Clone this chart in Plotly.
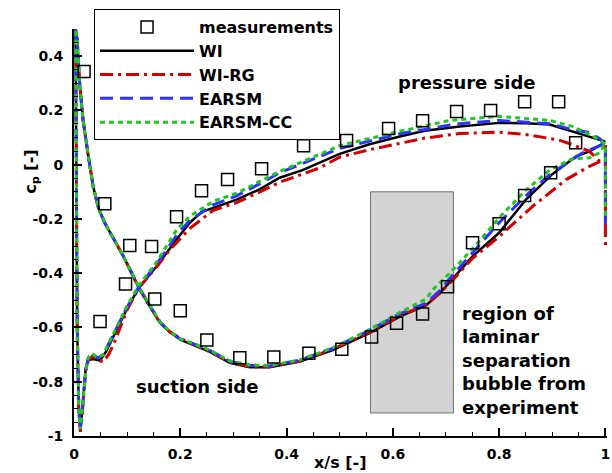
import plotly.graph_objects as go

# ---------------- data ----------------
# measurements
meas_x = [0.019, 0.058, 0.105, 0.146, 0.193, 0.24, 0.289, 0.353, 0.432, 0.513, 0.592, 0.656,
          0.72, 0.784, 0.848, 0.912, 0.944,
          0.049, 0.097, 0.152, 0.2, 0.25, 0.312, 0.376, 0.442, 0.504, 0.56, 0.607, 0.656,
          0.703, 0.75, 0.8, 0.848, 0.897]
meas_y = [0.343, -0.144, -0.298, -0.302, -0.192, -0.096, -0.055, -0.015, 0.07, 0.089, 0.133, 0.162,
          0.196, 0.2, 0.232, 0.232, 0.081,
          -0.578, -0.44, -0.495, -0.538, -0.646, -0.712, -0.709, -0.695, -0.68, -0.635, -0.584, -0.55,
          -0.45, -0.288, -0.218, -0.114, -0.03]

# WI : branch A (stagnation -> lower loop -> TE), branch B (stagnation -> LE dip -> upper loop -> TE)
wi_ax = [0.003, 0.006, 0.011, 0.017, 0.026, 0.036, 0.046, 0.058, 0.075, 0.093, 0.122, 0.143, 0.162,
         0.18, 0.2, 0.23, 0.256, 0.293, 0.331, 0.368, 0.425, 0.487, 0.556, 0.613, 0.663, 0.688,
         0.713, 0.75, 0.8, 0.85, 0.9, 0.945, 0.97, 0.998]
wi_ay = [0.5, 0.46, 0.29, 0.166, 0.044, -0.08, -0.16, -0.215, -0.275, -0.338, -0.454, -0.523, -0.583,
         -0.617, -0.645, -0.668, -0.69, -0.73, -0.747, -0.747, -0.726, -0.683, -0.621, -0.56, -0.518,
         -0.474, -0.418, -0.338, -0.251, -0.13, -0.035, 0.031, 0.049, 0.08]
wi_bx = [0.003, 0.004, 0.006, 0.009, 0.012, 0.015, 0.018, 0.022, 0.027, 0.036, 0.049, 0.06, 0.07,
         0.085, 0.1, 0.122, 0.155, 0.18, 0.195, 0.218, 0.24, 0.262, 0.306, 0.35, 0.387, 0.43, 0.5,
         0.556, 0.613, 0.66, 0.726, 0.8, 0.85, 0.895, 0.938, 0.97, 0.989, 1.0]
wi_by = [0.5, 0.0, -0.6, -0.9, -0.978, -0.92, -0.83, -0.75, -0.72, -0.716, -0.722, -0.69, -0.65,
         -0.59, -0.53, -0.454, -0.375, -0.31, -0.27, -0.214, -0.175, -0.159, -0.129, -0.09, -0.048,
         -0.02, 0.04, 0.075, 0.104, 0.125, 0.141, 0.154, 0.153, 0.148, 0.123, 0.105, 0.092, 0.085]
wi_te = []

# WI-RG
rg_ax = [0.003, 0.006, 0.011, 0.017, 0.026, 0.036, 0.046, 0.058, 0.075, 0.093, 0.122, 0.143, 0.162,
         0.18, 0.2, 0.23, 0.256, 0.293, 0.331, 0.368, 0.425, 0.487, 0.556, 0.613, 0.663, 0.688,
         0.713, 0.75, 0.8, 0.863, 0.926, 0.97, 0.99]
rg_ay = [0.5, 0.46, 0.29, 0.166, 0.044, -0.08, -0.16, -0.215, -0.275, -0.338, -0.454, -0.523, -0.583,
         -0.615, -0.64, -0.666, -0.69, -0.728, -0.745, -0.745, -0.724, -0.68, -0.618, -0.558, -0.515,
         -0.474, -0.425, -0.345, -0.265, -0.154, -0.055, -0.006, 0.012]
rg_bx = [0.003, 0.004, 0.006, 0.009, 0.012, 0.015, 0.018, 0.022, 0.027, 0.035, 0.045, 0.055, 0.065,
         0.075, 0.087, 0.1, 0.122, 0.155, 0.18, 0.2, 0.218, 0.262, 0.306, 0.35, 0.387, 0.462, 0.5,
         0.556, 0.613, 0.66, 0.726, 0.8, 0.85, 0.91, 0.938, 0.97, 0.989, 1.0]
rg_by = [0.5, 0.0, -0.6, -0.9, -0.985, -0.93, -0.84, -0.76, -0.72, -0.705, -0.72, -0.727, -0.7,
         -0.66, -0.6, -0.535, -0.454, -0.378, -0.315, -0.272, -0.235, -0.168, -0.14, -0.1, -0.065,
         -0.012, 0.028, 0.055, 0.08, 0.098, 0.115, 0.12, 0.111, 0.092, 0.074, 0.049, 0.012, 0.0]
rg_te = [0.08, -0.31]

# EARSM
ea_ax = [0.003, 0.006, 0.011, 0.017, 0.026, 0.036, 0.046, 0.058, 0.075, 0.093, 0.122, 0.143, 0.162,
         0.18, 0.2, 0.23, 0.256, 0.293, 0.331, 0.368, 0.425, 0.487, 0.556, 0.613, 0.663, 0.688,
         0.713, 0.75, 0.8, 0.85, 0.895, 0.957, 0.994]
ea_ay = [0.5, 0.46, 0.29, 0.166, 0.044, -0.08, -0.16, -0.215, -0.275, -0.338, -0.452, -0.52, -0.58,
         -0.614, -0.642, -0.664, -0.685, -0.725, -0.74, -0.742, -0.72, -0.677, -0.61, -0.55, -0.51,
         -0.465, -0.406, -0.322, -0.214, -0.115, -0.037, 0.044, 0.074]
ea_bx = [0.003, 0.004, 0.006, 0.009, 0.012, 0.017, 0.022, 0.027, 0.033, 0.04, 0.045, 0.055, 0.065,
         0.085, 0.1, 0.122, 0.155, 0.195, 0.218, 0.262, 0.306, 0.35, 0.387, 0.5, 0.613, 0.72, 0.8,
         0.895, 0.938, 0.97, 0.99, 1.0]
ea_by = [0.5, 0.0, -0.6, -0.9, -0.975, -0.87, -0.76, -0.71, -0.695, -0.705, -0.712, -0.7, -0.66,
         -0.585, -0.525, -0.45, -0.368, -0.255, -0.205, -0.148, -0.115, -0.07, -0.03, 0.06, 0.114,
         0.15, 0.163, 0.151, 0.129, 0.118, 0.095, 0.07]
ea_te = [-0.22]

# EARSM-CC
cc_ax = [0.003, 0.006, 0.011, 0.017, 0.026, 0.036, 0.046, 0.058, 0.075, 0.093, 0.122, 0.143, 0.162,
         0.18, 0.2, 0.23, 0.256, 0.293, 0.331, 0.368, 0.425, 0.487, 0.556, 0.613, 0.663, 0.675,
         0.71, 0.757, 0.8, 0.848, 0.895, 0.938, 0.97, 0.99, 0.997]
cc_ay = [0.5, 0.46, 0.29, 0.166, 0.044, -0.08, -0.16, -0.215, -0.275, -0.338, -0.45, -0.52, -0.58,
         -0.614, -0.642, -0.663, -0.684, -0.723, -0.738, -0.74, -0.72, -0.675, -0.608, -0.545, -0.495,
         -0.461, -0.394, -0.295, -0.196, -0.098, -0.02, 0.022, 0.025, 0.045, 0.072]
cc_bx = [0.003, 0.004, 0.006, 0.009, 0.012, 0.017, 0.022, 0.027, 0.033, 0.04, 0.045, 0.055, 0.065,
         0.085, 0.1, 0.122, 0.155, 0.193, 0.218, 0.262, 0.306, 0.35, 0.387, 0.5, 0.613, 0.707, 0.8,
         0.895, 0.938, 0.97, 0.99, 1.0]
cc_by = [0.5, 0.0, -0.6, -0.9, -0.975, -0.87, -0.76, -0.71, -0.695, -0.705, -0.712, -0.7, -0.658,
         -0.58, -0.52, -0.445, -0.36, -0.24, -0.19, -0.135, -0.105, -0.06, -0.025, 0.07, 0.123,
         0.163, 0.178, 0.163, 0.141, 0.111, 0.09, 0.074]
cc_te = [-0.2]

# experimental separation-bubble region
bubble_x = [0.558, 0.714]
bubble_y = [-0.915, -0.10]

x_ticks = [0, 0.2, 0.4, 0.6, 0.8, 1.0]
x_ticktext = ["0", "0.2", "0.4", "0.6", "0.8", "1"]
y_ticks = [-1, -0.8, -0.6, -0.4, -0.2, 0, 0.2, 0.4]
y_ticktext = ["-1", "-0.8", "-0.6", "-0.4", "-0.2", "0", "0.2", "0.4"]

# ---------------- figure ----------------
FONT = "DejaVu Sans"


def path(ax, ay, bx, by, te):
    xs = list(reversed(ax)) + bx[1:]
    ys = list(reversed(ay)) + by[1:]
    for v in te:
        xs.append(bx[-1])
        ys.append(v)
    return xs, ys


fig = go.Figure()

series = [
    ("WI", wi_ax, wi_ay, wi_bx, wi_by, wi_te, "black", "solid", 2.5),
    ("WI-RG", rg_ax, rg_ay, rg_bx, rg_by, rg_te, "#d40000", "13px,5px,3px,5px", 3),
    ("EARSM", ea_ax, ea_ay, ea_bx, ea_by, ea_te, "#3030ff", "13px,7px", 3),
    ("EARSM-CC", cc_ax, cc_ay, cc_bx, cc_by, cc_te, "#1fc81f", "5px,4px", 3),
]
for rank, (name, ax, ay, bx, by, te, col, dash, w) in enumerate(series, start=2):
    xs, ys = path(ax, ay, bx, by, te)
    fig.add_trace(go.Scatter(x=xs, y=ys, mode="lines", name=name, legendrank=rank,
                             line=dict(color=col, dash=dash, width=w)))

fig.add_trace(go.Scatter(x=meas_x, y=meas_y, mode="markers", name="measurements", legendrank=1,
                         marker=dict(symbol="square-open", size=12, color="black",
                                     line=dict(width=1.5, color="black"))))

fig.add_shape(type="rect", xref="x", yref="y", x0=bubble_x[0], x1=bubble_x[1],
              y0=bubble_y[0], y1=bubble_y[1], fillcolor="#d3d3d3",
              line=dict(color="#707070", width=1), layer="below")

bold = dict(family=FONT, color="black", weight="bold")

fig.add_annotation(x=0.739, y=0.303, xref="x", yref="y", text="pressure side", showarrow=False,
                   font=dict(size=18, **bold))
fig.add_annotation(x=0.231, y=-0.819, xref="x", yref="y", text="suction side", showarrow=False,
                   font=dict(size=18, **bold))
fig.add_annotation(x=0.726, y=-0.723, xref="x", yref="y",
                   text="region of<br>laminar<br>separation<br>bubble from<br>experiment",
                   showarrow=False, xanchor="left", align="left", font=dict(size=18, **bold))
# axis titles
fig.add_annotation(x=0.5, y=-0.066, xref="paper", yref="paper", text="x/s [-]", showarrow=False,
                   yanchor="middle", font=dict(size=16, **bold))
fig.add_annotation(x=-0.079, y=0.649, xref="paper", yref="paper", text="c<sub>p</sub> [-]",
                   showarrow=False, textangle=-90, xanchor="center", yanchor="middle",
                   font=dict(size=16, **bold))

axis_common = dict(showline=True, linecolor="black", linewidth=2, ticks="inside", ticklen=8,
                   tickwidth=1.5, tickcolor="black", showgrid=False, zeroline=False,
                   tickfont=dict(size=14, **bold), mirror=False, automargin=False,
                   minor=dict(ticks="inside", ticklen=4, tickwidth=1, tickcolor="black",
                              dtick=0.05, showgrid=False))

fig.update_xaxes(range=[0, 1.003], tickvals=x_ticks, ticktext=x_ticktext, ticklabelstandoff=4,
                 **axis_common)
fig.update_yaxes(range=[-1, 0.5], tickvals=y_ticks, ticktext=y_ticktext, ticklabelstandoff=6,
                 **axis_common)

fig.update_layout(
    width=612, height=473,
    margin=dict(l=74, r=5, t=29, b=37, autoexpand=False),
    plot_bgcolor="white", paper_bgcolor="white",
    font=dict(family=FONT, color="black"),
    legend=dict(x=0.0376, y=1.049, xanchor="left", yanchor="top", bgcolor="white",
                bordercolor="black", borderwidth=1, itemwidth=94,
                font=dict(size=16, **bold), traceorder="normal"),
)

fig.write_html("out.html")
